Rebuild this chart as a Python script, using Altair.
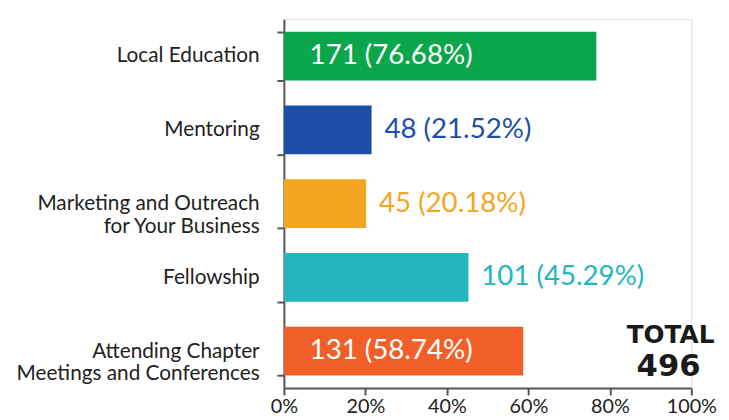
import altair as alt
import pandas as pd

categories = ["Local Education", "Mentoring", "Marketing and Outreach for Your Business",
              "Fellowship", "Attending Chapter Meetings and Conferences"]
counts = [171, 48, 45, 101, 131]
percents = [76.68, 21.52, 20.18, 45.29, 58.74]
colors = ["#0aa64b", "#1d4fa6", "#f4a623", "#25b5bd", "#f2602a"]
inside = [True, False, False, False, True]
total = 496
x_ticks = [0, 20, 40, 60, 80, 100]

df = pd.DataFrame({
    "cat": categories,
    "count": counts,
    "pct": percents,
    "color": colors,
    "inside": inside,
})
df["label"] = [f"{c} ({p:.2f}%)" for c, p in zip(counts, percents)]

FONT = "Lato"

label_expr = (
    "datum.label == 'Marketing and Outreach for Your Business' ? ['Marketing and Outreach', 'for Your Business'] : "
    "datum.label == 'Attending Chapter Meetings and Conferences' ? ['Attending Chapter', 'Meetings and Conferences'] : datum.label"
)

y_enc = alt.Y("cat:N", sort=categories,
              scale=alt.Scale(paddingInner=0.34, paddingOuter=0.17),
              axis=alt.Axis(title=None, labelExpr=label_expr, labelFont=FONT, labelFontSize=21,
                            labelColor="#222222", labelPadding=18, tickBand="extent",
                            labelLimit=400,
                            domainColor="#555555", domainWidth=2, tickColor="#555555",
                            tickWidth=2, tickSize=7, labelLineHeight=23))
x_enc = alt.X("pct:Q", scale=alt.Scale(domain=[0, 100], nice=False),
              axis=alt.Axis(title=None, values=x_ticks, labelExpr="datum.value + '%'",
                            labelFont=FONT, labelFontSize=20, labelColor="#222222",
                            domainColor="#555555", domainWidth=2, tickColor="#555555",
                            tickWidth=2, tickSize=7, grid=False, labelPadding=2,
                            labelFlush=False))

base = alt.Chart(df)

bars = base.mark_bar().encode(
    x=x_enc, y=y_enc,
    color=alt.Color("color:N", scale=None),
)

text_in = base.transform_filter("datum.inside").transform_calculate(zero="0").mark_text(
    align="left", dx=26, font=FONT, fontSize=28, color="white", baseline="middle"
).encode(x=alt.X("zero:Q"), y=alt.Y("cat:N", sort=categories), text="label:N")

text_out = base.transform_filter("!datum.inside").mark_text(
    align="left", dx=13, font=FONT, fontSize=28, baseline="middle"
).encode(x="pct:Q", y=alt.Y("cat:N", sort=categories), text="label:N",
         color=alt.Color("color:N", scale=None))

tot1 = alt.Chart(pd.DataFrame({"t": ["TOTAL"]})).mark_text(
    align="center", baseline="alphabetic", font="DejaVu Sans", fontSize=25, fontWeight="bold",
    color="#1a1a1a"
).encode(x=alt.value(391), y=alt.value(327), text="t:N")
tot2 = alt.Chart(pd.DataFrame({"t": [str(total)]})).mark_text(
    align="center", baseline="alphabetic", font="DejaVu Sans", fontSize=31, fontWeight="bold",
    color="#1a1a1a"
).encode(x=alt.value(389), y=alt.value(361), text="t:N")

chart = alt.layer(bars, text_in, text_out, tot1, tot2).properties(
    width=412, height=373,
    autosize=alt.AutoSizeParams(type="none"),
    padding={"left": 279, "top": 9, "right": 30, "bottom": 30},
).configure_view(stroke=None).configure(background="white")

chart.save("out.html", embed_options={"renderer": "svg", "actions": False})
